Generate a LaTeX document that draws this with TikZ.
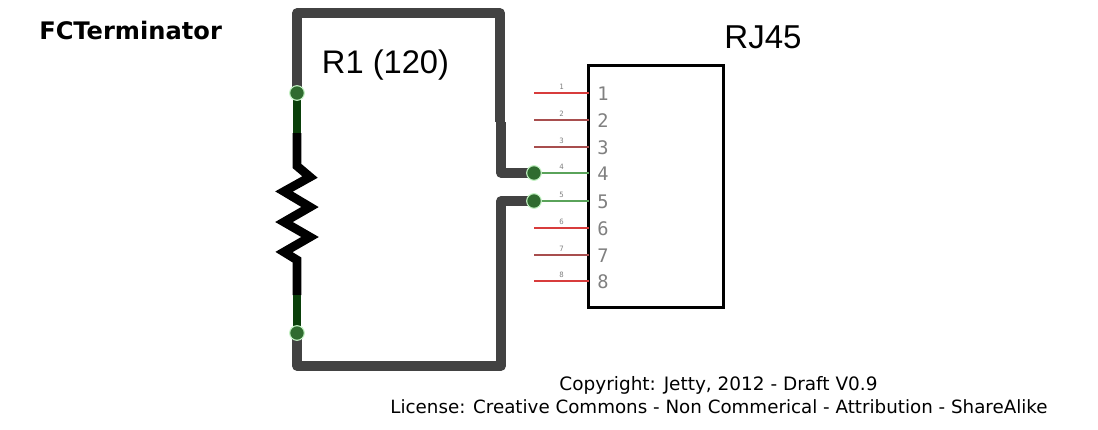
\documentclass[tikz,border=0pt]{standalone}
\usepackage{fontspec}
\usepackage{xcolor}
\setmainfont{DejaVu Sans}
\newfontfamily\labelfont{Liberation Sans}
\newfontfamily\pinfont{DejaVu Sans Mono}
\definecolor{wiregray}{HTML}{424242}
\definecolor{pinred}{HTML}{D83C3C}
\definecolor{pinbrown}{HTML}{A84E4E}
\definecolor{pingreen}{HTML}{5AA35A}
\definecolor{legdark}{HTML}{0A3F0A}
\definecolor{dotgreen}{HTML}{2F6B2F}
\definecolor{halogreen}{HTML}{C4F4C4}
\definecolor{pingray}{HTML}{808080}
\tikzset{
  wire/.style = {wiregray, line width = 7.2pt, line join = round},
  leg/.style = {black, line width = 6.6pt, line join = miter},
  legend/.style = {legdark, line width = 6.6pt},
  pinline/.style = {line width = 2.2pt},
  dot/.style = {circle, fill = dotgreen, draw = halogreen, line width = .8pt, inner sep = 0pt, minimum size = 11pt},
  tinylabel/.style = {pingray, font = \pinfont\fontsize{5.5}{6}\selectfont, inner sep = 0pt},
  pinlabel/.style = {pingray, font = \pinfont\fontsize{14}{14}\selectfont, inner sep = 0pt}
}
\begin{document}
\begin{tikzpicture}[x = .75pt, y = -.75pt]
  \useasboundingbox (0, 0) rectangle (1098, 429);
  % title and notes
  \node[anchor = west, inner sep = 0pt, font = \bfseries\fontsize{18.1}{20}\selectfont] (title) at (39, 30) {FCTerminator};
  \node[inner sep = 0pt, font = \fontsize{13.85}{15}\selectfont] (copy) at (718.5, 385) {Copyright: Jetty, 2012 - Draft V0.9};
  \node[inner sep = 0pt, font = \fontsize{13.7}{15}\selectfont] (lic) at (719, 407) {License: Creative Commons - Non Commerical - Attribution - ShareAlike};
  \node[inner sep = 0pt, font = \labelfont\fontsize{24.5}{28}\selectfont] (rname) at (385.5, 65.5) {R1 (120)};
  \node[inner sep = 0pt, font = \labelfont\fontsize{24.8}{28}\selectfont] (jname) at (763, 37) {RJ45};
  % connector body
  \node[draw, line width = 2.4pt, minimum width = 101pt, minimum height = 181.5pt, inner sep = 0pt] (jack) at (656, 186.5) {};
  % pins
  \foreach \n/\ypos/\col in {1/93/pinred, 2/120/pinbrown, 3/147/pinbrown, 4/173/pingreen, 5/201/pingreen, 6/228/pinred, 7/255/pinbrown, 8/281/pinred} {
    \coordinate (p\n) at (534, \ypos);
    \coordinate (q\n) at (589, \ypos);
    \draw[pinline, \col] (p\n) -- (q\n);
    \node[tinylabel] at (561.5, \ypos - 6) {\n};
    \node[pinlabel] at (603, \ypos + 1) {\n};
  }
  % resistor ends
  \coordinate (rtop) at (297, 93);
  \coordinate (rbot) at (297, 333);
  \coordinate (tl) at (297, 13);
  \coordinate (tr) at (500, 13);
  \coordinate (tm) at (500, 122);
  \coordinate (tn) at (501, 122);
  \coordinate (tb) at (501, 173);
  \coordinate (bt) at (501, 201);
  \coordinate (br) at (501, 366);
  \coordinate (bl) at (297, 366);
  % wires
  \draw[wire] (rtop) -- (tl) -- (tr) -- (tm);
  \draw[wire] (tn) -- (tb) -- (p4);
  \draw[wire] (p5) -- (bt) -- (br) -- (bl) -- (rbot);
  % resistor
  \draw[leg] (297, 133) -- (297, 166) -- (310, 177) -- (284, 191.5) -- (310, 207) -- (284, 222) -- (310, 237) -- (284, 252) -- (297, 260) -- (297, 295);
  \draw[legend] (rtop) -- (297, 133);
  \draw[legend] (297, 295) -- (rbot);
  % connection dots
  \node[dot] (d1) at (rtop) {};
  \node[dot] (d2) at (rbot) {};
  \node[dot] (d3) at (p4) {};
  \node[dot] (d4) at (p5) {};
\end{tikzpicture}
\end{document}
